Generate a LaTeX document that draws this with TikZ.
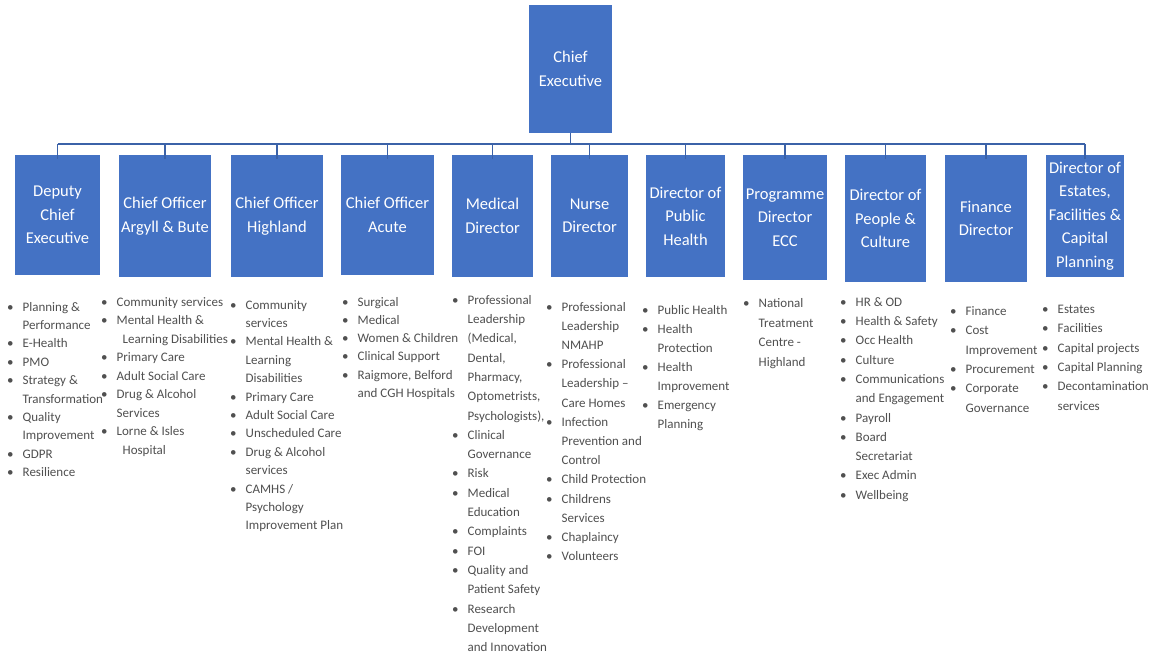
\documentclass[tikz,border=0pt]{standalone}
\usepackage{fontspec}
\setmainfont{Carlito}
\definecolor{boxblue}{HTML}{4472C4}
\definecolor{linecol}{HTML}{3B62A8}
\definecolor{txtgray}{HTML}{505050}
\begin{document}
\begin{tikzpicture}[x=1pt,y=-1pt,
 box/.style={fill=boxblue, text=white, inner sep=0pt, align=center, font=\fontsize{16.5}{23.5}\selectfont},
 conn/.style={draw=linecol, line width=1.3pt},
 lst/.style={anchor=north west, inner sep=0pt, text=txtgray, font=\fontsize{13}{#1}\selectfont}]
\useasboundingbox (0,0) rectangle (1156,658);
\fill[white] (0,0) rectangle (1156,658);

% top box
\node[box, minimum width=83pt, minimum height=128pt] (ce) at (570.5,69) {Chief\\Executive};

% second row
\node[box, minimum width=85pt, minimum height=120pt] (d1) at (57.5,215) {Deputy\\Chief\\Executive};
\node[box, minimum width=92pt, minimum height=122pt] (d2) at (165,216) {Chief Officer\\Argyll \& Bute};
\node[box, minimum width=92pt, minimum height=122pt] (d3) at (277,216) {Chief Officer\\Highland};
\node[box, minimum width=93pt, minimum height=120pt] (d4) at (387.5,215) {Chief Officer\\Acute};
\node[box, minimum width=81pt, minimum height=122pt] (d5) at (492.5,216) {Medical\\Director};
\node[box, minimum width=77pt, minimum height=122pt] (d6) at (589.5,216) {Nurse\\Director};
\node[box, minimum width=79pt, minimum height=122pt] (d7) at (685.5,216) {Director of\\Public\\Health};
\node[box, minimum width=84pt, minimum height=125pt] (d8) at (785,217.5) {Programme\\Director\\ECC};
\node[box, minimum width=81pt, minimum height=127pt] (d9) at (885.5,218.5) {Director of\\People \&\\Culture};
\node[box, minimum width=82pt, minimum height=127pt] (d10) at (986,218.5) {Finance\\Director};
\node[box, minimum width=78pt, minimum height=122pt] (d11) at (1085,216) {Director of\\Estates,\\Facilities \&\\Capital\\Planning};

% connectors
\coordinate (busL) at (57.5,144);
\coordinate (busR) at (1085,144);
\draw[conn] (busL) -- (busR);
\draw[conn] (ce.south) -- (ce.south |- busL);
\foreach \n in {d1,d2,d3,d4,d5,d6,d7,d8,d9,d10,d11}{
  \draw[conn] (\n.north |- busL) -- ([yshift=-4pt]\n.north);
}

% lists
\node[lst=18.4] (l1) at (7,298) {\begin{tabular}{@{}l@{\hspace{9pt}}l@{}}
\textbullet & Planning \&\\ & Performance\\
\textbullet & E-Health\\
\textbullet & PMO\\
\textbullet & Strategy \&\\ & Transformation\\
\textbullet & Quality\\ & Improvement\\
\textbullet & GDPR\\
\textbullet & Resilience
\end{tabular}};

\node[lst=18.5] (l2) at (101,293) {\begin{tabular}{@{}l@{\hspace{9pt}}l@{}}
\textbullet & Community services\\
\textbullet & Mental Health \&\\ & \hspace{6pt}Learning Disabilities\\
\textbullet & Primary Care\\
\textbullet & Adult Social Care\\
\textbullet & Drug \& Alcohol\\ & Services\\
\textbullet & Lorne \& Isles\\ & \hspace{6pt}Hospital
\end{tabular}};

\node[lst=18.4] (l3) at (230,296) {\begin{tabular}{@{}l@{\hspace{9pt}}l@{}}
\textbullet & Community\\ & services\\
\textbullet & Mental Health \&\\ & Learning\\ & Disabilities\\
\textbullet & Primary Care\\
\textbullet & Adult Social Care\\
\textbullet & Unscheduled Care\\
\textbullet & Drug \& Alcohol\\ & services\\
\textbullet & CAMHS /\\ & Psychology\\ & Improvement Plan
\end{tabular}};

\node[lst=18.3] (l4) at (342,293) {\begin{tabular}{@{}l@{\hspace{9pt}}l@{}}
\textbullet & Surgical\\
\textbullet & Medical\\
\textbullet & Women \& Children\\
\textbullet & Clinical Support\\
\textbullet & Raigmore, Belford\\ & and CGH Hospitals
\end{tabular}};

\node[lst=19.3] (l5) at (452,290.5) {\begin{tabular}{@{}l@{\hspace{9pt}}l@{}}
\textbullet & Professional\\ & Leadership\\ & (Medical,\\ & Dental,\\ & Pharmacy,\\ & Optometrists,\\ & Psychologists),\\
\textbullet & Clinical\\ & Governance\\
\textbullet & Risk\\
\textbullet & Medical\\ & Education\\
\textbullet & Complaints\\
\textbullet & FOI\\
\textbullet & Quality and\\ & Patient Safety\\
\textbullet & Research\\ & Development\\ & and Innovation
\end{tabular}};

\node[lst=19.2] (l6) at (546,297.5) {\begin{tabular}{@{}l@{\hspace{9pt}}l@{}}
\textbullet & Professional\\ & Leadership\\ & NMAHP\\
\textbullet & Professional\\ & Leadership --\\ & Care Homes\\
\textbullet & Infection\\ & Prevention and\\ & Control\\
\textbullet & Child Protection\\
\textbullet & Childrens\\ & Services\\
\textbullet & Chaplaincy\\
\textbullet & Volunteers
\end{tabular}};

\node[lst=19] (l7) at (642,300.5) {\begin{tabular}{@{}l@{\hspace{9pt}}l@{}}
\textbullet & Public Health\\
\textbullet & Health\\ & Protection\\
\textbullet & Health\\ & Improvement\\
\textbullet & Emergency\\ & Planning
\end{tabular}};

\node[lst=19.6] (l8) at (743,293.5) {\begin{tabular}{@{}l@{\hspace{9pt}}l@{}}
\textbullet & National\\ & Treatment\\ & Centre -\\ & Highland
\end{tabular}};

\node[lst=19.3] (l9) at (840,292.5) {\begin{tabular}{@{}l@{\hspace{9pt}}l@{}}
\textbullet & HR \& OD\\
\textbullet & Health \& Safety\\
\textbullet & Occ Health\\
\textbullet & Culture\\
\textbullet & Communications\\ & and Engagement\\
\textbullet & Payroll\\
\textbullet & Board\\ & Secretariat\\
\textbullet & Exec Admin\\
\textbullet & Wellbeing
\end{tabular}};

\node[lst=19.4] (l10) at (950,301.5) {\begin{tabular}{@{}l@{\hspace{9pt}}l@{}}
\textbullet & Finance\\
\textbullet & Cost\\ & Improvement\\
\textbullet & Procurement\\
\textbullet & Corporate\\ & Governance
\end{tabular}};

\node[lst=19.4] (l11) at (1042,299.5) {\begin{tabular}{@{}l@{\hspace{9pt}}l@{}}
\textbullet & Estates\\
\textbullet & Facilities\\
\textbullet & Capital projects\\
\textbullet & Capital Planning\\
\textbullet & Decontamination\\ & services
\end{tabular}};
\end{tikzpicture}
\end{document}
